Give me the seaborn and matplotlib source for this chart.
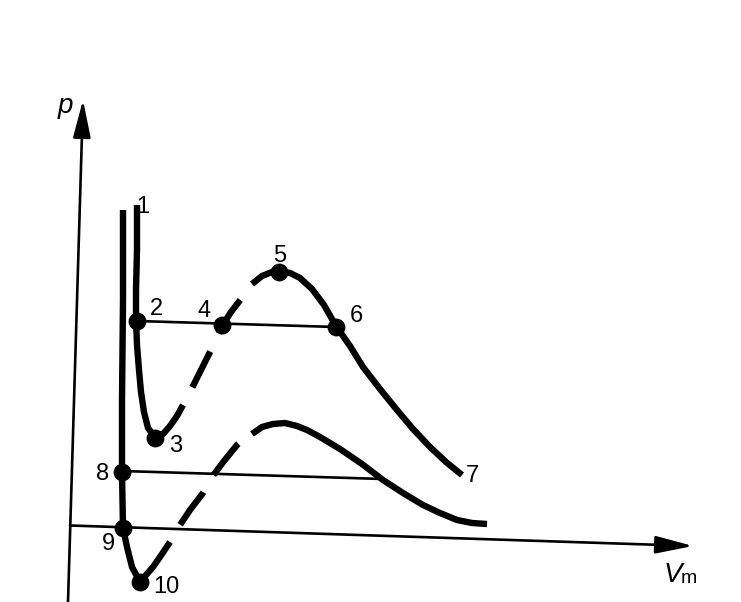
import matplotlib
matplotlib.use("Agg")
import matplotlib.pyplot as plt
import seaborn as sns

# Van der Waals isotherms (schematic). Values in
# drawing units: v grows to the right, p is the row (axis inverted).

# upper isotherm: liquid branch 1 -> 2 -> 3
upper_liq_v = [137, 137, 136, 136, 137, 139, 141, 144, 148, 155, 163, 170, 177, 183]
upper_liq_p = [205, 250, 290, 320, 345, 370, 392, 412, 428, 437, 434, 426, 416, 405]
# upper isotherm: unstable part 3 -> 4 -> 5 (dashed)
upper_mid_v = [183, 192, 201, 210, 218, 222, 231, 241, 252]
upper_mid_p = [405, 388, 370, 352, 336, 326, 312, 299, 284]
# upper isotherm: 5 -> 6 -> 7
upper_gas_v = [252, 262, 272, 280, 290, 300, 312, 324, 336, 350, 363, 380,
               397, 413, 430, 446, 462]
upper_gas_p = [284, 276, 272, 271, 273, 278, 289, 305, 326, 346, 367, 389,
               410, 429, 447, 462, 475]

# lower isotherm: liquid branch through 8, 9, 10
lower_liq_v = [123, 123, 122, 122, 123, 127, 132, 140, 153, 162, 170]
lower_liq_p = [210, 300, 400, 472, 528, 547, 567, 582, 567, 554, 542]
# lower isotherm: unstable part (dashed)
lower_mid_v = [170, 178, 190, 203, 212, 224, 237, 252]
lower_mid_p = [542, 528, 510, 493, 477, 461, 445, 432]
# lower isotherm: gas branch
lower_gas_v = [252, 262, 273, 285, 297, 307, 320, 340, 362, 383, 403, 423,
               440, 457, 472, 487]
lower_gas_p = [434, 427, 424, 423, 426, 430, 437, 449, 464, 480, 493, 505,
               513, 520, 523, 524]

# tie lines
tie_upper_v = [137, 336]
tie_upper_p = [321, 327]
tie_lower_v = [122, 383]
tie_lower_p = [471, 479]

# marked states
point_labels = ["2", "3", "4", "5", "6", "8", "9", "10"]
point_v = [137, 155, 222, 279, 336, 122, 123, 140]
point_p = [321, 438, 325, 272, 327, 472, 528, 582]

# state numbers (label, v, p of baseline)
num_labels = ["1", "2", "3", "4", "5", "6", "7", "8", "9", "10"]
num_v = [143, 156, 176, 204, 280, 356, 472, 103, 108, 166]
num_p = [213, 315, 452, 317, 262, 322, 482, 480, 550, 593]

INK = "black"
THICK = 4.6
THIN = 1.9

sns.set_style("white")
plt.rcParams["font.family"] = ["Liberation Sans", "DejaVu Sans"]
plt.rcParams["lines.scale_dashes"] = False

fig = plt.figure(figsize=(7.41, 6.02), dpi=100, facecolor="white")
ax = fig.add_axes([0, 0, 1, 1])
ax.set_xlim(0, 741)
ax.set_ylim(602, 0)
ax.axis("off")

# axes of the diagram
arrow = dict(arrowstyle="-|>,head_length=1.15,head_width=0.27",
             color=INK, lw=THIN, shrinkA=0, shrinkB=0, mutation_scale=20)
ax.annotate("", xy=(83, 100), xytext=(68, 602), arrowprops=arrow)
ax.annotate("", xy=(693, 546), xytext=(70, 525.5), arrowprops=arrow)

# tie lines
ax.plot(tie_upper_v, tie_upper_p, color=INK, lw=THIN)
ax.plot(tie_lower_v, tie_lower_p, color=INK, lw=THIN)

# solid parts of the isotherms
for v, p in [(upper_liq_v, upper_liq_p), (upper_gas_v, upper_gas_p),
             (lower_liq_v, lower_liq_p), (lower_gas_v, lower_gas_p)]:
    sns.lineplot(x=v, y=p, sort=False, estimator=None, ax=ax, color=INK,
                 lw=THICK, solid_capstyle="butt", solid_joinstyle="round")

# dashed (unstable) parts
dash = (28.8, (28.8, 14.4))
for v, p in [(upper_mid_v, upper_mid_p), (lower_mid_v, lower_mid_p)]:
    ax.plot(v, p, color=INK, lw=THICK, linestyle=dash, dash_capstyle="butt")

sns.scatterplot(x=point_v, y=point_p, ax=ax, color=INK, s=165,
                edgecolor=INK, linewidth=0, zorder=5)

for lab, v, p in zip(num_labels, num_v, num_p):
    ax.text(v, p, lab, ha="center", va="baseline", fontsize=17, color=INK)

ax.text(65, 113, "p", ha="center", va="baseline", fontsize=20,
        style="italic", color=INK)
ax.text(673, 582, "V", ha="center", va="baseline", fontsize=20,
        style="italic", color=INK)
ax.text(689, 583, "m", ha="center", va="baseline", fontsize=14, color=INK)

fig.savefig("out.png", dpi=100, facecolor="white")
